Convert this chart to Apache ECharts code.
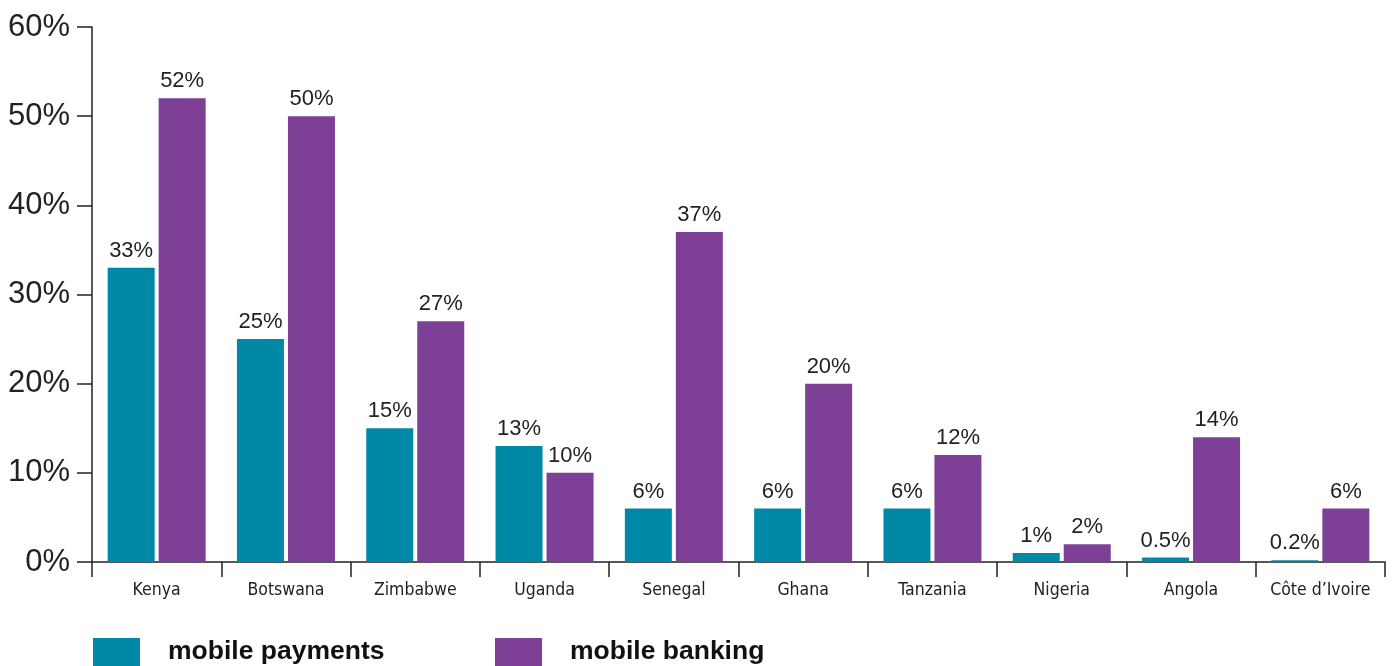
<!DOCTYPE html>
<html><head><meta charset="utf-8">
<script src="https://cdn.jsdelivr.net/npm/echarts@6/dist/echarts.min.js"></script>
<style>html,body{margin:0;padding:0;background:#fff}#c{width:1392px;height:666px}</style>
</head><body><div id="c"></div>
<script>
const categories = ['Kenya','Botswana','Zimbabwe','Uganda','Senegal','Ghana','Tanzania','Nigeria','Angola','Côte d\u2019Ivoire'];
const mobilePayments = [33,25,15,13,6,6,6,1,0.5,0.2];
const mobileBanking = [52,50,27,10,37,20,12,2,14,6];
const yTicks = [0,10,20,30,40,50,60];

const teal = '#0089A7', purple = '#7E3F96';
const chart = echarts.init(document.getElementById('c'));
const lbl = {show:true, position:'top', distance:6, formatter:p=>p.value+'%', fontFamily:'Liberation Sans', fontSize:22, color:'#222'};
const legText = {fontFamily:'Liberation Sans',fontWeight:'bold',fontSize:26.5,color:'#111',padding:[6,0,0,23]};
chart.setOption({
  animation:false,
  grid:{left:92,right:7,top:27,bottom:104,containLabel:false},
  legend:[
    {data:['mobile payments'],left:93,top:638,padding:0,itemWidth:47,itemHeight:28,icon:'rect',itemGap:0,textStyle:legText},
    {data:['mobile banking'],left:495,top:638,padding:0,itemWidth:47,itemHeight:28,icon:'rect',itemGap:0,textStyle:legText}
  ],
  xAxis:{type:'category',data:categories,
    axisLine:{lineStyle:{color:'#222',width:1.5}},
    axisTick:{show:true,length:15,lineStyle:{color:'#222',width:1.5}},
    axisLabel:{interval:0,margin:19,fontFamily:'DejaVu Sans Condensed',fontSize:17.5,color:'#222'}},
  yAxis:{type:'value',min:yTicks[0],max:yTicks[yTicks.length-1],interval:10,
    axisLine:{show:true,lineStyle:{color:'#222',width:1.5}},
    axisTick:{show:true,length:15,lineStyle:{color:'#222',width:1.5}},
    splitLine:{show:false},
    axisLabel:{margin:22,formatter:v=>v+'%',fontFamily:'Liberation Sans',fontSize:31,color:'#222'}},
  series:[
    {name:'mobile payments',type:'bar',data:mobilePayments,itemStyle:{color:teal},barWidth:47,barGap:'8.5%',label:lbl},
    {name:'mobile banking',type:'bar',data:mobileBanking,itemStyle:{color:purple},barWidth:47,barGap:'8.5%',label:lbl}
  ]
});
</script></body></html>
